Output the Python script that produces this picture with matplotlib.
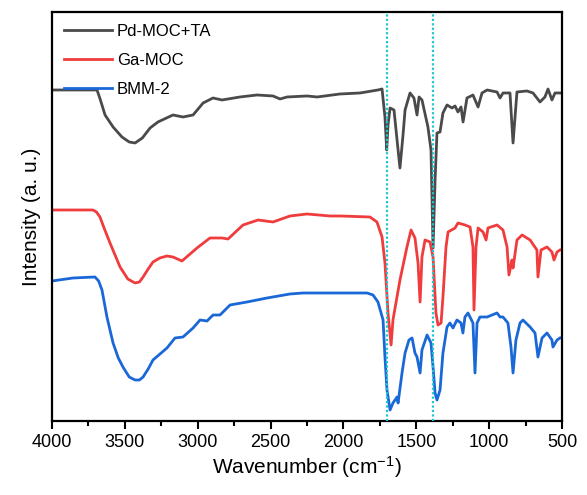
import matplotlib
matplotlib.use('Agg')
import matplotlib.pyplot as plt
from matplotlib.ticker import MultipleLocator

plt.rcParams['font.family'] = ['Liberation Sans', 'DejaVu Sans']
plt.rcParams['mathtext.fontset'] = 'custom'
plt.rcParams['mathtext.rm'] = 'Liberation Sans'
plt.rcParams['mathtext.it'] = 'Liberation Sans:italic'

# Pd-MOC+TA (top trace)
w_pd = [4000, 3691, 3670, 3636, 3581, 3520, 3470, 3430, 3380, 3327, 3273, 3170, 3101, 3032,
        2963, 2895, 2833, 2710, 2593, 2483, 2435, 2387, 2250, 2181, 2023, 1886, 1763, 1735,
        1715, 1703, 1694, 1680, 1653, 1632, 1612, 1591, 1577, 1543, 1516, 1495, 1481, 1461,
        1420, 1399, 1385, 1371, 1358, 1337, 1317, 1289, 1255, 1234, 1214, 1193, 1179, 1152,
        1111, 1076, 1049, 1014, 946, 925, 905, 857, 836, 809, 740, 699, 651, 617, 596, 569,
        548, 514]
i_pd = [331, 331, 322, 306, 294, 284, 279, 278, 283, 293, 299, 306, 304, 306,
        318, 323, 321, 324, 326, 325, 322, 324, 325, 324, 327, 328, 331, 332,
        304, 271, 296, 313, 311, 281, 253, 286, 311, 328, 323, 306, 324, 321,
        294, 271, 173, 241, 288, 289, 308, 316, 313, 315, 309, 314, 299, 323,
        326, 314, 328, 331, 329, 323, 328, 328, 278, 329, 330, 328, 319, 324, 332, 321,
        328, 328]

# Ga-MOC (middle trace)
w_ga = [4000, 3719, 3695, 3671, 3640, 3602, 3533, 3480, 3430, 3400, 3375, 3340, 3307, 3260,
        3211, 3170, 3108, 3005, 2916, 2833, 2792, 2689, 2586, 2483, 2367, 2250, 2092, 2023,
        1818, 1770, 1735, 1715, 1694, 1673, 1660, 1612, 1564, 1536, 1509, 1488, 1474, 1461,
        1440, 1406, 1385, 1365, 1351, 1330, 1317, 1296, 1282, 1234, 1214, 1166, 1131, 1111,
        1104, 1090, 1076, 1042, 1021, 1008, 946, 905, 877, 864, 843, 836, 809, 774, 719, 672,
        665, 644, 603, 569, 555, 534, 514]
i_ga = [211, 211, 209, 204, 192, 178, 154, 142, 138, 139, 144, 152, 159, 163,
        165, 164, 160, 173, 183, 183, 182, 196, 201, 199, 205, 207, 205, 205,
        204, 199, 184, 158, 108, 76, 101, 141, 174, 191, 183, 158, 119, 164,
        181, 179, 164, 108, 96, 98, 124, 174, 189, 193, 198, 196, 194, 174,
        111, 174, 193, 189, 181, 193, 196, 191, 174, 146, 161, 153, 181, 186, 181, 171,
        144, 171, 174, 169, 161, 169, 171]

# BMM-2 (bottom trace)
w_bmm = [4000, 3856, 3705, 3680, 3657, 3623, 3581, 3545, 3513, 3470, 3430, 3400, 3375, 3340,
         3307, 3211, 3156, 3101, 3032, 2984, 2936, 2895, 2847, 2778, 2662, 2524, 2367, 2277,
         2181, 2023, 1838, 1797, 1763, 1728, 1715, 1701, 1680, 1660, 1632, 1625, 1598, 1577,
         1550, 1529, 1509, 1495, 1474, 1461, 1426, 1399, 1385, 1371, 1358, 1337, 1317, 1289,
         1269, 1248, 1221, 1193, 1180, 1166, 1145, 1111, 1097, 1083, 1063, 1014, 946, 925,
         905, 871, 850, 836, 816, 788, 768, 719, 685, 665, 637, 603, 569, 562, 534, 514]
i_bmm = [140, 143, 144, 140, 131, 104, 78, 63, 54, 44, 41, 41, 44, 52,
         61, 73, 83, 84, 93, 101, 100, 106, 106, 116, 119, 123, 127, 128,
         128, 128, 128, 126, 119, 101, 64, 31, 11, 18, 24, 18, 48, 68,
         81, 83, 68, 64, 48, 71, 86, 78, 54, 28, 21, 31, 68, 94,
         98, 93, 101, 98, 88, 104, 108, 98, 48, 98, 104, 104, 108, 104,
         104, 98, 74, 48, 81, 98, 101, 94, 88, 64, 83, 88, 81, 74, 81, 83]

marks = [1703, 1385]

fig = plt.figure(figsize=(5.87, 4.95), dpi=100)
ax = fig.add_axes([0.0886, 0.1495, 0.8688, 0.8263])

ax.plot(w_pd, i_pd, color='#4a4a4a', lw=2, label='Pd-MOC+TA', solid_joinstyle='round')
ax.plot(w_ga, i_ga, color='#f03c3c', lw=2, label='Ga-MOC', solid_joinstyle='round')
ax.plot(w_bmm, i_bmm, color='#1a68d8', lw=2, label='BMM-2', solid_joinstyle='round')
for m in marks:
    ax.axvline(m, color='#1fc6cf', lw=1.6, ls=(0, (1, 1)), zorder=5)

ax.set_xlim(4000, 500)
ax.set_ylim(0, 409)
ax.xaxis.set_major_locator(MultipleLocator(500))
ax.xaxis.set_minor_locator(MultipleLocator(250))
ax.tick_params(axis='x', which='major', direction='out', length=6, width=1.5, labelsize=13)
ax.tick_params(axis='x', which='minor', direction='out', length=3.5, width=1.5)
ax.set_yticks([])
for s in ax.spines.values():
    s.set_linewidth(1.6)

ax.set_xlabel('Wavenumber (cm$^{-1}$)', fontsize=15, labelpad=2)
ax.set_ylabel('Intensity (a. u.)', fontsize=15, labelpad=8)

ax.legend(loc='upper left', frameon=False, fontsize=12, handlelength=2.9,
          handletextpad=0.3, labelspacing=0.85, borderaxespad=0.3)

fig.savefig('out.png', dpi=100)
